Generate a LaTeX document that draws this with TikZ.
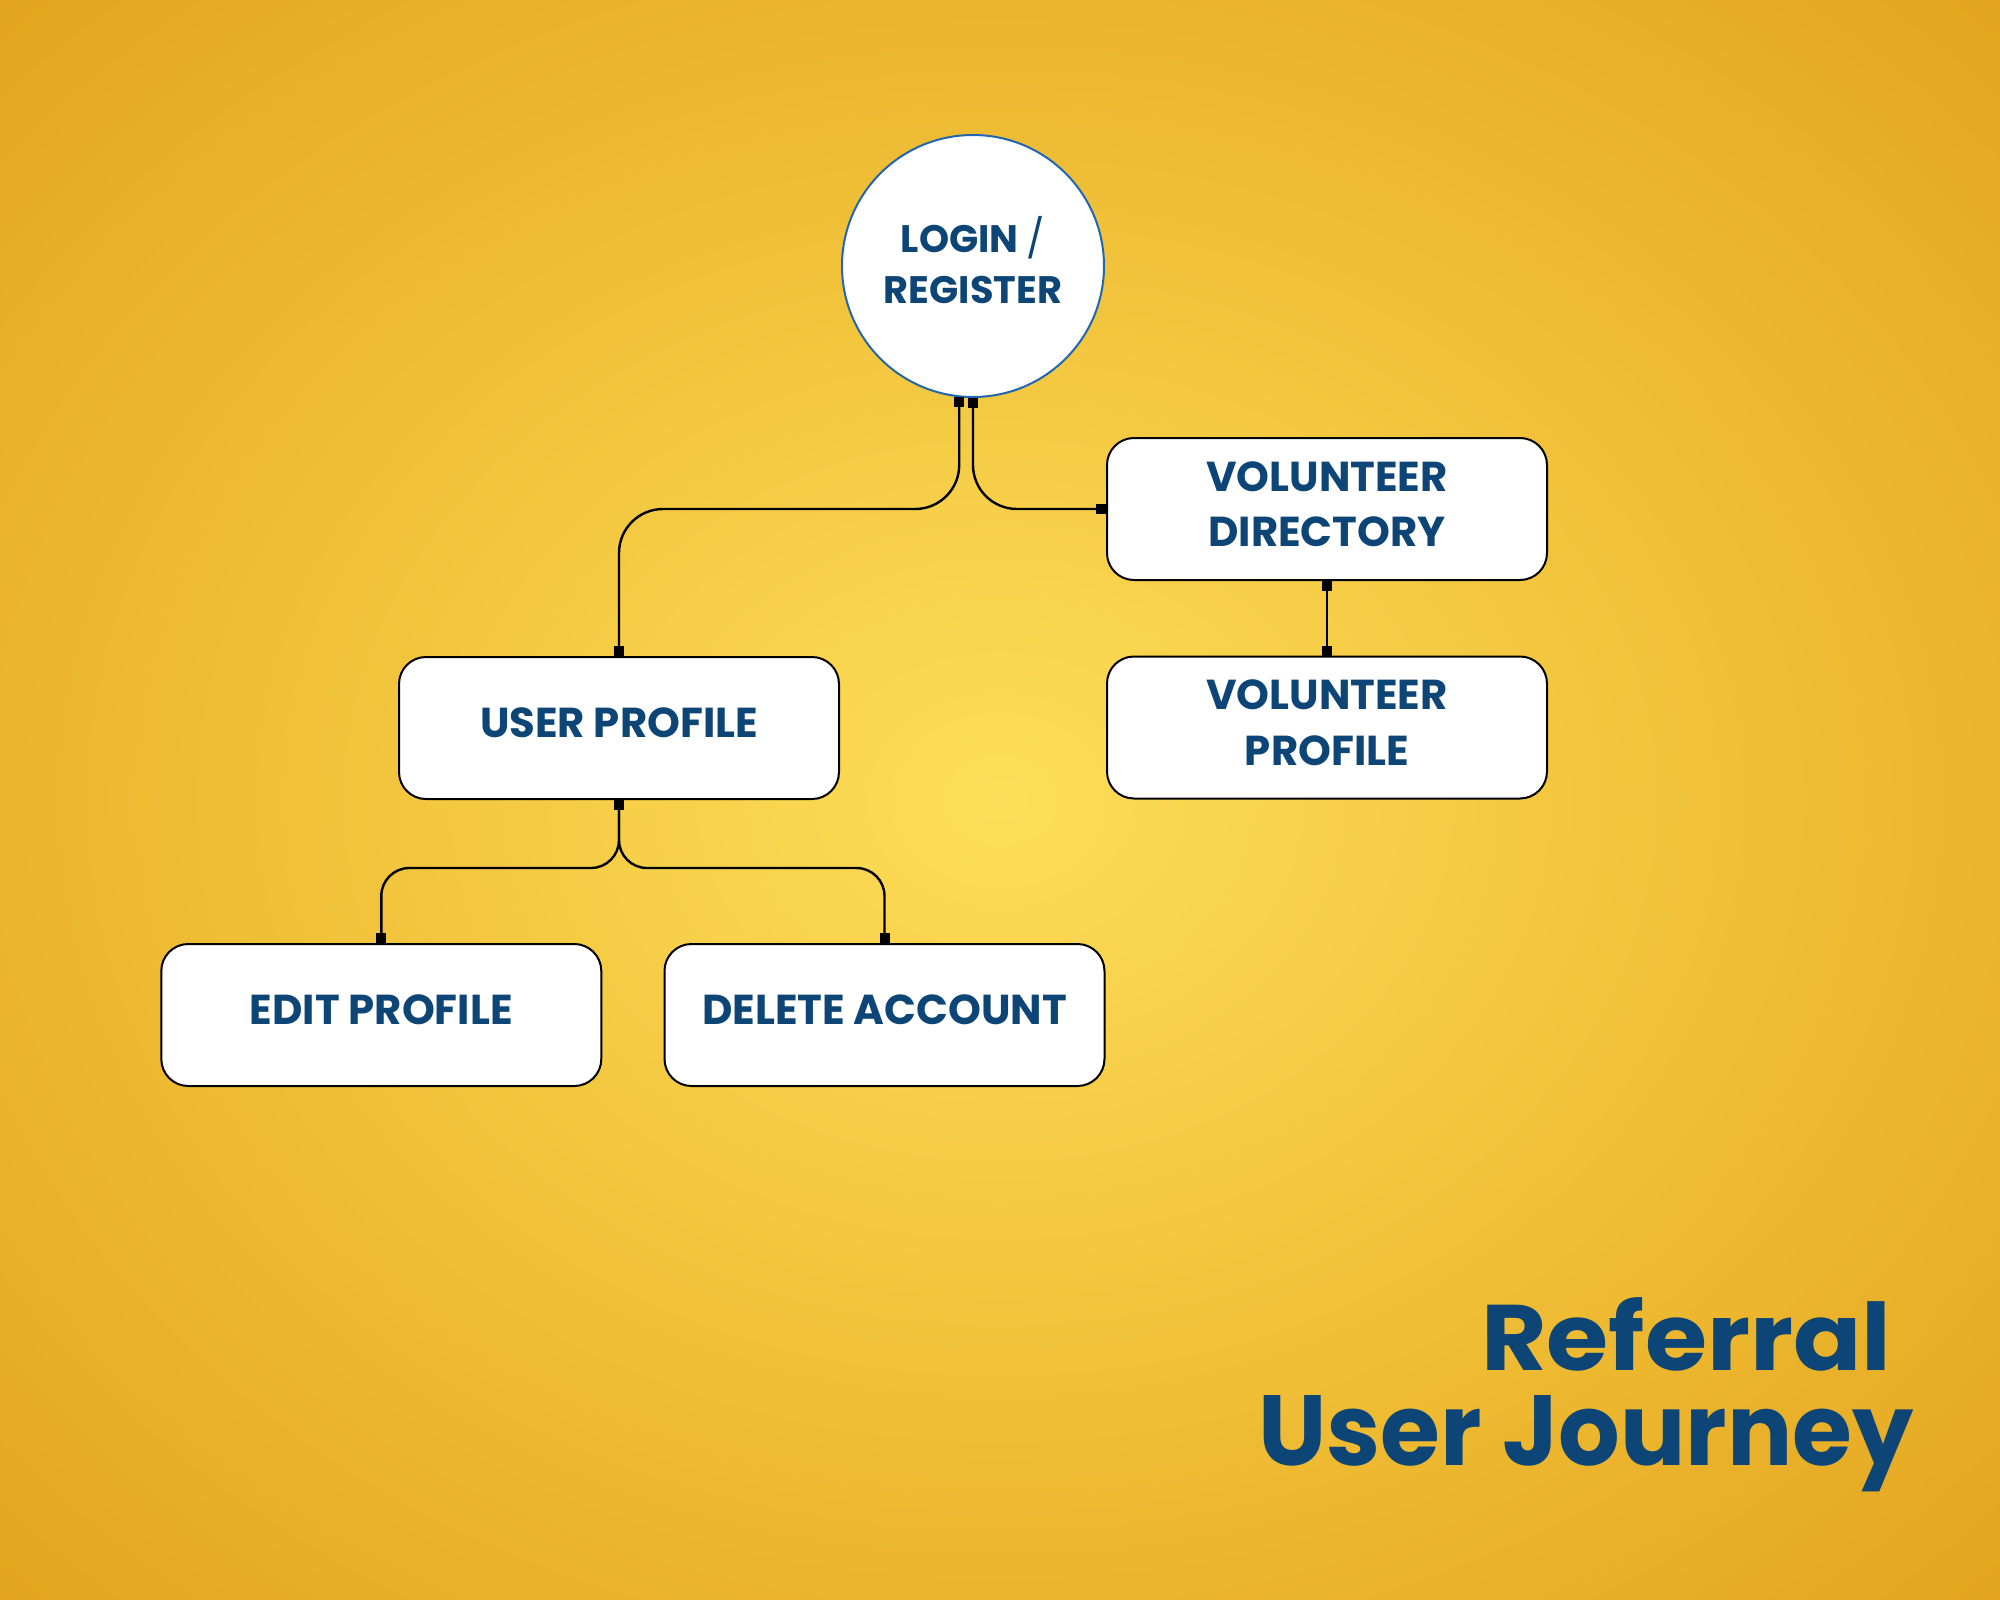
\documentclass[tikz,border=0pt]{standalone}
\usepackage{fontspec}
\setmainfont{Poppins}
\usepackage{graphicx}
\usetikzlibrary{arrows.meta}
\definecolor{bgin}{HTML}{FEDE58}
\definecolor{bgmid}{HTML}{EBB52D}
\definecolor{bgout}{HTML}{E4A41F}
\definecolor{navy}{HTML}{0E4577}
\definecolor{ringblue}{HTML}{2166AE}
\pgfdeclareradialshading{bgshade}{\pgfpoint{0bp}{0bp}}{color(0bp)=(bgin); color(25bp)=(bgmid); color(35.4bp)=(bgout); color(50bp)=(bgout)}
\tikzset{
  stepbox/.style={draw=black, line width=0.2mm, fill=white, rounded corners=2.7mm,
    minimum width=44mm, minimum height=14.2mm, align=center, inner sep=0pt,
    font=\fontsize{11.9}{15.8}\selectfont\bfseries, text=navy, text depth=1mm},
  circ/.style={circle, draw=ringblue, line width=0.2mm, fill=white, minimum size=26.2mm,
    inner sep=0pt, align=center, font=\fontsize{10.9}{14.6}\selectfont\bfseries,
    text=navy, text depth=1.2mm},
  conn/.style={draw=black, line width=0.24mm,
    {Square[length=1mm,width=1mm]}-{Square[length=1mm,width=1mm]}},
  titletext/.style={anchor=base east, inner sep=0pt, text=navy, font=\bfseries}
}
\begin{document}
\begin{tikzpicture}[x=0.1mm,y=-0.1mm]
\shade[shading=bgshade] (0,0) rectangle (2000,1600);
\useasboundingbox (0,0) rectangle (2000,1600);

\node[circ] (login) at (973,266) {LOGIN {\mdseries /}\\REGISTER};
\node[stepbox] (vd) at (1327,509) {VOLUNTEER\\DIRECTORY};
\node[stepbox] (vp) at (1327,727.5) {VOLUNTEER\\PROFILE};
\node[stepbox] (up) at (619,728) {USER PROFILE};
\node[stepbox] (edit) at (381.3,1015) {EDIT PROFILE};
\node[stepbox] (del) at (884.5,1015) {DELETE ACCOUNT};

\coordinate (split) at (619,868);

\draw[conn, rounded corners=4.4mm] (login.264.3) -- (login.264.3 |- vd.west) -| (up.north);
\draw[conn, rounded corners=4.4mm] (login.south) |- (vd.west);
\draw[conn] (vd.south) -- (vp.north);
\draw[conn, rounded corners=2.8mm] (up.south) -- (split) -| (edit.north);
\draw[conn, rounded corners=2.8mm] (up.south) -- (split) -| (del.north);

\node[titletext] (t1) at (1892,1370) {\resizebox{41mm}{7.3mm}{Referral}};
\node[titletext] (t2) at (1914,1465) {\resizebox{65.5mm}{7.0mm}{User Journey}};
\end{tikzpicture}
\end{document}
